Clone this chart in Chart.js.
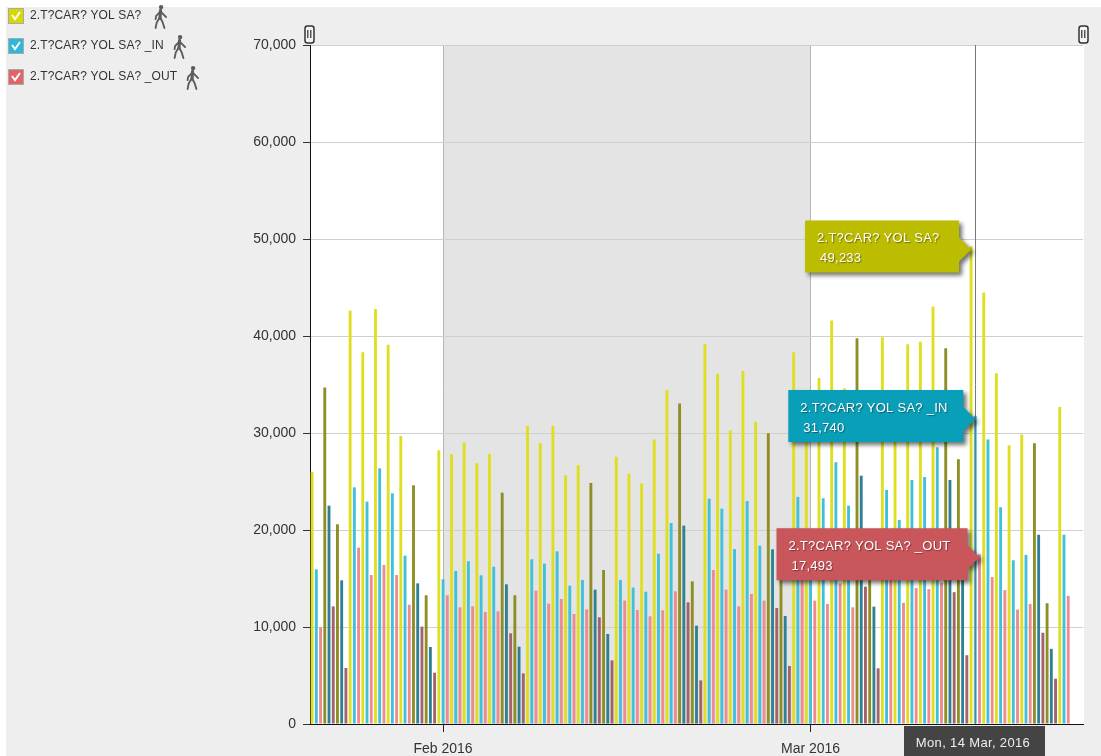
<!DOCTYPE html>
<html>
<head>
<meta charset="utf-8">
<title>2.T?CAR? YOL SA?</title>
<script src="https://cdn.jsdelivr.net/npm/chart.js@4"></script>
<style>
  html, body { margin: 0; padding: 0; background: #fff; overflow: hidden; }
  canvas { display: block; }
</style>
</head>
<body>
<canvas id="chart" width="1101" height="756"></canvas>
<script>
// one label per day, Jan 22 to Mar 21 2016, plus one empty slot at the right end
const days = [];
const monthNames = ['Jan', 'Feb', 'Mar'];
const monthLengths = [31, 29, 31];
let m = 0, dd = 22;
for (let i = 0; i < 61; i++) {
    days.push(dd + ' ' + monthNames[m] + ' 2016');
    dd++;
    if (dd > monthLengths[m]) { dd = 1; m++; }
}

const totalValues = [
    26000, 34680, 20590, 42620, 38320, 42790, 39110, 29700, 24610, 13270,
    28220, 27840, 29010, 26880, 27870, 23850, 13270, 30760, 28970, 30760,
    25640, 26670, 24850, 15880, 27560, 25810, 24810, 29320, 34440, 33030,
    14710, 39180, 36120, 30250, 36400, 31170, 29970, 16200, 38320, 32000,
    35680, 41590, 34580, 39770, 16500, 39880, 31000, 39160, 39400, 43030,
    38740, 27290, 49233, 44480, 36150, 28740, 29850, 28950, 12450, 32690
];
const inValues = [
    15950, 22510, 14810, 24400, 22920, 26360, 23780, 17360, 14500, 7940,
    14920, 15780, 16770, 15330, 16220, 14400, 7970, 16980, 16530, 17800,
    14260, 14850, 13850, 9280, 14850, 14060, 13640, 17560, 20720, 20450,
    10140, 23230, 22200, 18040, 22990, 18390, 18010, 11140, 23410, 16500,
    23270, 26980, 22510, 25600, 12100, 24140, 21030, 25150, 25460, 28540,
    25150, 18000, 31740, 29330, 22350, 16880, 17430, 19510, 7750, 19510
];
const outValues = [
    9970, 12130, 5770, 18180, 15360, 16390, 15360, 12300, 10040, 5290,
    13270, 12030, 12130, 11550, 11620, 9350, 5220, 13750, 12410, 12890,
    11340, 11820, 11000, 6560, 12720, 11750, 11100, 11720, 13680, 12540,
    4500, 15880, 13850, 12130, 13400, 12720, 11960, 5980, 15000, 12720,
    12370, 14500, 12030, 14160, 5740, 15500, 12490, 14010, 13900, 14560,
    13590, 7090, 17493, 15150, 13800, 11800, 12380, 9410, 4670, 13210
];

// index of the weekend days, these are drawn darker
const weekendDays = [1, 2, 8, 9, 15, 16, 22, 23, 29, 30, 36, 37, 43, 44, 50, 51, 57, 58];

const seriesNames = ['2.T?CAR? YOL SA?', '2.T?CAR? YOL SA? _IN', '2.T?CAR? YOL SA? _OUT'];
const yTicks = [0, 10000, 20000, 30000, 40000, 50000, 60000, 70000];

const dayColors = ['#dfdf20', '#40c0dc', '#ee8a90'];
const weekendColors = ['#8e8e24', '#2f8096', '#a4626a'];
const tipColors = ['#bcbc00', '#0a9fb8', '#c9565a'];
const legendColors = ['#d8d800', '#2cb8d8', '#e06468'];

const shadeStart = 10;   // Feb 1
const shadeEnd = 39;     // Mar 1
const markerDay = 52;    // Mar 14
const markerLabel = 'Mon, 14 Mar, 2016';
const monthTicks = { 10: 'Feb 2016', 39: 'Mar 2016' };

function barColors(index) {
    return days.map((d, i) => weekendDays.includes(i) ? weekendColors[index] : dayColors[index]);
}

function drawHandle(ctx, x, y) {
    ctx.save();
    ctx.fillStyle = '#f4f4f4';
    ctx.strokeStyle = '#333';
    ctx.lineWidth = 1.5;
    ctx.beginPath();
    ctx.roundRect(x - 4, y - 8, 9, 17, 2.5);
    ctx.fill();
    ctx.stroke();
    ctx.fillStyle = '#555';
    ctx.fillRect(x - 2, y - 4, 1.5, 8);
    ctx.fillRect(x + 1, y - 4, 1.5, 8);
    ctx.restore();
}

// small walking figure next to the legend entries
function drawWalker(ctx, x, y) {
    ctx.save();
    ctx.translate(x, y);
    ctx.scale(1.1, 1.1);
    ctx.fillStyle = '#5c5c5c';
    ctx.strokeStyle = '#5c5c5c';
    ctx.lineCap = 'round';
    ctx.beginPath();
    ctx.arc(1, -9, 2, 0, Math.PI * 2);
    ctx.fill();
    ctx.lineWidth = 2.8;
    ctx.beginPath();
    ctx.moveTo(0.5, -6);
    ctx.lineTo(0, 1);
    ctx.stroke();
    ctx.lineWidth = 1.7;
    ctx.beginPath();
    ctx.moveTo(0, 0);
    ctx.lineTo(-3, 5);
    ctx.lineTo(-4, 10);
    ctx.moveTo(0, 0);
    ctx.lineTo(2.5, 5);
    ctx.lineTo(4, 10);
    ctx.moveTo(0.5, -5);
    ctx.lineTo(-3.5, -1);
    ctx.lineTo(-4, 2);
    ctx.moveTo(0.5, -5);
    ctx.lineTo(4, -1.5);
    ctx.lineTo(5.5, 0);
    ctx.stroke();
    ctx.restore();
}

function drawLegend(ctx) {
    const rows = [15, 45, 76];
    const walkerX = [160, 179, 192];
    rows.forEach((y, i) => {
        // checkbox
        ctx.fillStyle = legendColors[i];
        ctx.strokeStyle = '#aaa';
        ctx.lineWidth = 1;
        ctx.fillRect(8.5, y - 6.5, 15, 15);
        ctx.strokeRect(8.5, y - 6.5, 15, 15);
        ctx.strokeStyle = '#fff';
        ctx.lineWidth = 2;
        ctx.beginPath();
        ctx.moveTo(12, y);
        ctx.lineTo(15, y + 4);
        ctx.lineTo(20, y - 3);
        ctx.stroke();

        ctx.fillStyle = '#333';
        ctx.font = '12px "Liberation Sans"';
        ctx.letterSpacing = '0.12px';
        ctx.textAlign = 'left';
        ctx.textBaseline = 'middle';
        ctx.fillText(seriesNames[i], 30, y + 1);
        ctx.letterSpacing = '0px';
        drawWalker(ctx, walkerX[i], y + 2);
    });
}

function drawTip(ctx, chart, index) {
    const bar = chart.getDatasetMeta(index).data[markerDay];
    const tipX = bar.x;
    const tipY = bar.y + 3;
    const widths = [154, 175, 191];
    const right = tipX - 12;
    const left = right - widths[index];
    const top = tipY - 29;
    const bottom = tipY + 23;
    const value = chart.data.datasets[index].data[markerDay];

    ctx.save();
    ctx.shadowColor = 'rgba(0,0,0,0.55)';
    ctx.shadowBlur = 4;
    ctx.shadowOffsetX = 3;
    ctx.shadowOffsetY = 3;
    ctx.fillStyle = tipColors[index];
    ctx.beginPath();
    ctx.moveTo(left, top);
    ctx.lineTo(right, top);
    ctx.lineTo(right, tipY - 12);
    ctx.lineTo(tipX, tipY);
    ctx.lineTo(right, tipY + 12);
    ctx.lineTo(right, bottom);
    ctx.lineTo(left, bottom);
    ctx.closePath();
    ctx.fill();
    ctx.restore();

    ctx.save();
    ctx.fillStyle = '#fff';
    ctx.shadowColor = 'rgba(0,0,0,0.4)';
    ctx.shadowBlur = 1;
    ctx.shadowOffsetX = 1;
    ctx.shadowOffsetY = 1;
    ctx.font = '13px "Liberation Sans"';
    ctx.letterSpacing = '0.25px';
    ctx.textAlign = 'left';
    ctx.textBaseline = 'middle';
    ctx.fillText(seriesNames[index], left + 12, top + 18);
    ctx.fillText(value.toLocaleString('en-US'), left + 15, top + 38);
    ctx.restore();
}

const backdropPlugin = {
    id: 'backdrop',
    beforeDraw(chart) {
        const { ctx, chartArea: area, scales } = chart;
        ctx.save();
        ctx.fillStyle = '#fff';
        ctx.fillRect(0, 0, chart.width, chart.height);
        ctx.fillStyle = '#eeeeee';
        ctx.fillRect(6, 7, chart.width - 6, chart.height - 7);
        ctx.fillStyle = '#fff';
        ctx.fillRect(area.left, area.top, area.right - area.left + 1, area.bottom - area.top);
        const x0 = scales.x.getPixelForValue(shadeStart);
        const x1 = scales.x.getPixelForValue(shadeEnd);
        ctx.fillStyle = '#e4e4e4';
        ctx.fillRect(x0, area.top, x1 - x0, area.bottom - area.top);
        ctx.restore();
    },
    afterDraw(chart) {
        const { ctx, chartArea: area, scales } = chart;
        const markerX = scales.x.getPixelForValue(markerDay);

        ctx.save();
        ctx.strokeStyle = '#777';
        ctx.lineWidth = 1;
        ctx.beginPath();
        ctx.moveTo(Math.floor(markerX) + 0.5, area.top);
        ctx.lineTo(Math.floor(markerX) + 0.5, area.bottom);
        ctx.stroke();

        [0, 1, 2].forEach(i => drawTip(ctx, chart, i));

        // date box below the axis
        ctx.fillStyle = '#444';
        ctx.fillRect(904, area.bottom + 2, 141, chart.height - area.bottom - 2);
        ctx.fillStyle = '#eee';
        ctx.font = '13px "Liberation Sans"';
        ctx.letterSpacing = '0.35px';
        ctx.textAlign = 'center';
        ctx.textBaseline = 'middle';
        ctx.fillText(markerLabel, 973, 743);
        ctx.letterSpacing = '0px';

        drawHandle(ctx, 309, 34);
        drawHandle(ctx, 1083, 34);
        drawLegend(ctx);
        ctx.restore();
    }
};

const datasets = [totalValues, inValues, outValues].map((values, i) => ({
    label: seriesNames[i],
    data: values,
    backgroundColor: barColors(i),
    categoryPercentage: 1,
    barPercentage: 0.68
}));

new Chart(document.getElementById('chart'), {
    type: 'bar',
    data: { labels: days, datasets: datasets },
    plugins: [backdropPlugin],
    options: {
        responsive: false,
        animation: false,
        layout: { padding: { top: 45, right: 18, left: 0, bottom: 0 } },
        plugins: {
            legend: { display: false },
            tooltip: { enabled: false }
        },
        scales: {
            x: {
                afterFit(scale) { scale.height = 32; },
                border: { color: '#111', width: 1 },
                grid: {
                    offset: false,
                    tickLength: 8,
                    color: ctx => monthTicks[ctx.index] ? '#b4b4b4' : 'transparent',
                    tickColor: ctx => monthTicks[ctx.index] ? '#222' : 'transparent'
                },
                ticks: {
                    autoSkip: false,
                    maxRotation: 0,
                    padding: 9,
                    color: '#333',
                    font: { family: '"Liberation Sans"', size: 14 },
                    callback: (value, index) => monthTicks[index] || ''
                }
            },
            y: {
                min: 0,
                max: 70000,
                afterFit(scale) { scale.width = 310; },
                afterBuildTicks(scale) { scale.ticks = yTicks.map(v => ({ value: v })); },
                border: { color: '#111', width: 1 },
                grid: {
                    color: '#cfcfcf',
                    tickLength: 7,
                    tickColor: '#333'
                },
                ticks: {
                    padding: 7,
                    color: '#333',
                    font: { family: '"Liberation Sans"', size: 14 },
                    callback: value => value.toLocaleString('en-US')
                }
            }
        }
    }
});
</script>
</body>
</html>
